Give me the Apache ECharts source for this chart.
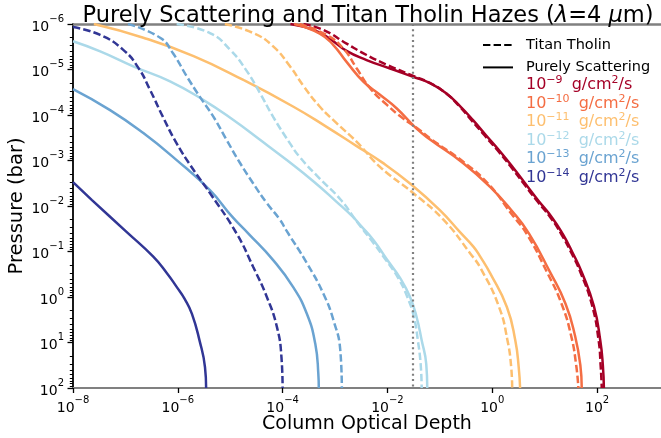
<!DOCTYPE html>
<html>
<head>
<meta charset="utf-8">
<script src="https://cdn.jsdelivr.net/npm/echarts@6/dist/echarts.min.js"></script>
<style>
  html, body { margin: 0; padding: 0; background: #ffffff; }
  #chart { width: 661px; height: 438px; }
</style>
</head>
<body>
<div id="chart"></div>
<script>
// Axis ranges and tick positions
const tauMin = 1e-8;
const tauMax = 1660;
const pressureTop = 1e-6;
const pressureBottom = 100;
const xTickValues = [1e-8, 1e-6, 1e-4, 1e-2, 1, 1e2];
const yTickValues = [1e-6, 1e-5, 1e-4, 1e-3, 1e-2, 1e-1, 1, 10, 100];
const yMinorTickValues = [];
for (let e = -6; e < 2; e++) {
  for (let m = 2; m <= 9; m++) yMinorTickValues.push(m * Math.pow(10, e));
}

// Reference optical depth (dotted vertical line)
const referenceDepth = [0.03];

// Haze production rates (exponent of g/cm^2/s) and their colours
const fluxExponents = [-9, -10, -11, -12, -13, -14];
const fluxColors = ['#a50026', '#f46d43', '#fdbf6f', '#abd9e9', '#6aa3d1', '#313695'];

// Column optical depth vs pressure (bar): [tau, P]
const scattering9 = [[1.41e-4,1e-6],[3.9e-4,1.35e-6],[7.9e-4,2.1e-6],[1.66e-3,3.9e-6],[4.0e-3,6.2e-6],[1.12e-2,9.5e-6],[3.1e-2,1.45e-5],[6.5e-2,2.0e-5],[0.135,3.4e-5],[0.25,6.6e-5],[0.43,1.3e-4],[0.76,2.79e-4],[1.35,5.96e-4],[2.39,1.34e-3],[4.23,3.18e-3],[7.48,7.5e-3],[13.8,1.78e-2],[22.4,4.23e-2],[33.4,0.101],[52,0.30],[87,1.58],[115,8.9],[129,31.6],[135,100]];
const tholin9 = [[2.5e-4,1e-6],[6.0e-4,1.35e-6],[1.66e-3,2.7e-6],[4.0e-3,4.8e-6],[9.8e-3,7.9e-6],[2.8e-2,1.32e-5],[6.0e-2,1.9e-5],[0.126,3.2e-5],[0.235,6.4e-5],[0.40,1.3e-4],[0.71,2.79e-4],[1.26,5.96e-4],[2.23,1.34e-3],[3.95,3.18e-3],[7.0,7.5e-3],[12.9,1.78e-2],[21,4.23e-2],[31.5,0.101],[49,0.30],[81,1.58],[107,8.9],[117,31.6],[123,100]];

const scattering10 = [[1.66e-4,1e-6],[5.1e-4,1.62e-6],[9.3e-4,2.9e-6],[1.66e-3,6.8e-6],[3.5e-3,1.86e-5],[7.2e-3,3.6e-5],[1.51e-2,7.2e-5],[3.6e-2,2.0e-4],[6.6e-2,3.5e-4],[0.28,1.15e-3],[0.91,3.8e-3],[2.3,1.23e-2],[5.0,4.0e-2],[12.6,0.28],[25,1.41],[38,7.1],[48,31.6],[51,100]];
const tholin10 = [[2.1e-4,1e-6],[6.9e-4,1.74e-6],[1.45e-3,3.5e-6],[2.6e-3,9.5e-6],[4.7e-3,2.6e-5],[9.8e-3,6.0e-5],[2.0e-2,1.2e-4],[3.6e-2,1.9e-4],[6.6e-2,3.3e-4],[0.28,1.07e-3],[0.87,3.4e-3],[2.24,1.41e-2],[4.6,4.2e-2],[11,0.28],[21,1.41],[32,7.1],[40,31.6],[44,100]];

const scattering11 = [[2.5e-8,1e-6],[2.2e-7,2.0e-6],[2.0e-6,5.1e-6],[1.78e-5,1.7e-5],[1.58e-4,6.5e-5],[6.9e-4,1.82e-4],[2.5e-3,4.7e-4],[7.9e-3,1.1e-3],[2.7e-2,3.2e-3],[0.10,1.23e-2],[0.245,3.8e-2],[0.44,7.9e-2],[0.59,0.13],[0.91,0.30],[1.9,1.66],[2.75,8.9],[3.2,35],[3.4,100]];
const tholin11 = [[7.9e-6,1e-6],[2.75e-5,1.58e-6],[6.6e-5,3.1e-6],[1.38e-4,8.5e-6],[2.5e-4,2.3e-5],[5.1e-4,6.5e-5],[1.07e-3,1.51e-4],[2.6e-3,3.9e-4],[7.2e-3,1.38e-3],[3.1e-2,5.2e-3],[0.117,2.0e-2],[0.38,0.11],[0.62,0.25],[1.35,1.66],[1.95,8.9],[2.3,35],[2.4,100]];

const scattering12 = [[1e-8,2.4e-6],[3.3e-8,4.0e-6],[1.41e-7,8.5e-6],[7.1e-7,1.82e-5],[3.1e-6,4.7e-5],[1.15e-5,1.29e-4],[3.7e-5,3.5e-4],[1.2e-4,9.8e-4],[3.9e-4,2.9e-3],[1.07e-3,8.1e-3],[2.2e-3,1.74e-2],[3.0e-3,2.6e-2],[5.4e-3,5.6e-2],[9.8e-3,0.15],[1.74e-2,0.38],[2.7e-2,1.0],[3.6e-2,2.75],[4.5e-2,8.9],[5.5e-2,29.5],[5.75e-2,100]];
const tholin12 = [[9.5e-7,1e-6],[4.1e-6,1.58e-6],[1.0e-5,3.7e-6],[2.0e-5,1.02e-5],[3.7e-5,3.3e-5],[6.6e-5,1.1e-4],[1.38e-4,4.2e-4],[2.1e-4,8.3e-4],[5.1e-4,2.5e-3],[1.26e-3,7.1e-3],[2.6e-3,2.2e-2],[4.9e-3,5.6e-2],[9.2e-3,0.15],[1.6e-2,0.38],[2.4e-2,1.0],[3.2e-2,2.75],[3.8e-2,8.9],[4.3e-2,29.5],[4.5e-2,100]];

const scattering13 = [[1e-8,2.7e-5],[5.1e-8,7.8e-5],[2.2e-7,2.5e-4],[9.5e-7,9.8e-4],[4.1e-6,4.5e-3],[1.1e-5,1.74e-2],[2.2e-5,4.0e-2],[6.6e-5,0.155],[1.58e-4,0.60],[2.9e-4,2.34],[4.2e-4,10.7],[4.8e-4,49],[4.9e-4,100]];
const tholin13 = [[1.12e-7,1e-6],[4.6e-7,2.0e-6],[8.1e-7,4.4e-6],[1.48e-6,1.41e-5],[2.6e-6,3.9e-5],[4.8e-6,1.1e-4],[8.5e-6,3.5e-4],[1.55e-5,1.15e-3],[2.75e-5,3.2e-3],[5.0e-5,8.7e-3],[8.9e-5,2.0e-2],[1.17e-4,3.4e-2],[2.9e-4,0.18],[6.0e-4,0.85],[9.3e-4,3.2],[1.26e-3,14.8],[1.35e-3,100]];

const scattering14 = [[1e-8,3.0e-3],[2.3e-8,7.4e-3],[1.05e-7,3.7e-2],[3.4e-7,0.13],[6.2e-7,0.30],[9.5e-7,0.60],[1.35e-6,1.1],[1.86e-6,2.34],[2.6e-6,9.1],[3.3e-6,34.7],[3.47e-6,100]];
const tholin14 = [[1e-8,1.17e-6],[3.3e-8,1.74e-6],[9.1e-8,3.7e-6],[1.78e-7,9.3e-6],[2.95e-7,2.8e-5],[5.2e-7,1.1e-4],[9.5e-7,4.2e-4],[2.0e-6,1.62e-3],[4.1e-6,5.2e-3],[1.32e-5,4.0e-2],[2.75e-5,0.22],[5.0e-5,1.0],[7.8e-5,4.6],[9.5e-5,21],[1.0e-4,100]];

const scatteringCurves = [scattering9, scattering10, scattering11, scattering12, scattering13, scattering14];
const tholinCurves = [tholin9, tholin10, tholin11, tholin12, tholin13, tholin14];

const FONT = 'DejaVu Sans';
const LINE_WIDTH = 2.5;
const DASH = [7.4, 3.2];
const SMOOTH = 0.5;

function minusSign(n) {
  return String(n).replace('-', '\u2212');
}
function powerLabel(v) {
  const e = Math.round(Math.log10(v));
  return '{b|10}{s|' + minusSign(e) + '}';
}
function fluxName(e) {
  return 'flux' + e;
}

const tickRich = {
  b: { fontFamily: FONT, fontSize: 14, lineHeight: 20, verticalAlign: 'bottom', color: '#000' },
  s: { fontFamily: FONT, fontSize: 10, lineHeight: 14, verticalAlign: 'top', color: '#000' }
};

const series = [
  { name: 'Titan Tholin', type: 'line', data: [], symbol: 'none', showSymbol: false,
    lineStyle: { color: '#000', width: LINE_WIDTH, type: DASH }, itemStyle: { color: '#000' } },
  { name: 'Purely Scattering', type: 'line', data: [], symbol: 'none', showSymbol: false,
    lineStyle: { color: '#000', width: LINE_WIDTH, type: 'solid' }, itemStyle: { color: '#000' } }
];

fluxExponents.forEach((e, i) => {
  const color = fluxColors[i];
  const solid = {
    name: fluxName(e), type: 'line', data: scatteringCurves[i],
    symbol: 'none', smooth: SMOOTH, clip: true,
    lineStyle: { color: color, width: LINE_WIDTH, type: 'solid' },
    itemStyle: { color: color }, z: 3
  };
  if (i === 0) {
    solid.markLine = {
      silent: true, symbol: ['none', 'none'], label: { show: false },
      lineStyle: { color: '#808080', width: 2.2, type: [2, 3.3] },
      data: referenceDepth.map(v => ({ xAxis: v }))
    };
  }
  series.push(solid);
  series.push({
    name: fluxName(e), type: 'line', data: tholinCurves[i],
    symbol: 'none', smooth: SMOOTH, clip: true,
    lineStyle: { color: color, width: LINE_WIDTH, type: DASH },
    itemStyle: { color: color }, z: 3
  });
});

const option = {
  animation: false,
  backgroundColor: '#ffffff',
  title: {
    text: '{n|Purely Scattering and Titan Tholin Hazes (}{i|\u03bb}{n|=4 }{i|\u03bc}{n|m)}',
    left: 363, top: 0, textAlign: 'center',
    textStyle: {
      fontWeight: 'normal',
      rich: {
        n: { fontFamily: FONT, fontSize: 22.5, fontWeight: 'normal', color: '#000' },
        i: { fontFamily: FONT, fontSize: 22.5, fontWeight: 'normal', fontStyle: 'italic', color: '#000' }
      }
    }
  },
  grid: { left: 73, right: 0, top: 24, bottom: 50, containLabel: false, outerBoundsMode: 'none' },
  legend: [
    {
      data: ['Titan Tholin', 'Purely Scattering'],
      orient: 'vertical', left: 477, top: 32,
      itemWidth: 30, itemHeight: 14, itemGap: 6.4,
      selectedMode: false,
      itemStyle: { opacity: 0 },
      textStyle: { fontFamily: FONT, fontSize: 14.5, color: '#000', lineHeight: 16, padding: [0, 0, 0, 8] }
    },
    {
      data: fluxExponents.map((e, i) => ({ name: fluxName(e), icon: 'none', textStyle: { color: fluxColors[i] } })),
      orient: 'vertical', left: 516, top: 70,
      itemWidth: 0, itemHeight: 10, itemGap: 0.5,
      selectedMode: false,
      formatter: function (name) {
        const e = name.replace('flux', '');
        return '{b|10}{s|' + minusSign(e) + '}{g| g/cm}{s|2}{b|/s}';
      },
      textStyle: {
        fontFamily: FONT, fontSize: 16,
        rich: {
          b: { fontFamily: FONT, fontSize: 16, lineHeight: 18, verticalAlign: 'bottom' },
          g: { fontFamily: FONT, fontSize: 16, lineHeight: 18, verticalAlign: 'bottom', padding: [0, 0, 0, 4] },
          s: { fontFamily: FONT, fontSize: 11, lineHeight: 13, verticalAlign: 'top' }
        }
      }
    }
  ],
  xAxis: [
    {
      type: 'log', min: tauMin, max: tauMax, position: 'bottom',
      name: 'Column Optical Depth', nameLocation: 'middle', nameGap: 27, nameMoveOverlap: false,
      nameTextStyle: { fontFamily: FONT, fontSize: 19, color: '#000' },
      axisLine: { show: true, lineStyle: { color: '#808080', width: 2 } },
      axisTick: { show: true, length: 5, lineStyle: { color: '#000', width: 1.3 }, customValues: xTickValues },
      axisLabel: { margin: 7, formatter: powerLabel, rich: tickRich, customValues: xTickValues },
      splitLine: { show: false }, minorTick: { show: false }
    },
    {
      type: 'log', min: tauMin, max: tauMax, position: 'top',
      axisLine: { show: true, lineStyle: { color: '#808080', width: 2.5 } },
      axisTick: { show: false }, axisLabel: { show: false }, splitLine: { show: false }
    }
  ],
  yAxis: [
    {
      type: 'log', min: pressureTop, max: pressureBottom, inverse: true,
      name: 'Pressure (bar)', nameLocation: 'middle', nameGap: 46, nameMoveOverlap: false,
      nameTextStyle: { fontFamily: FONT, fontSize: 19.5, color: '#000' },
      axisLine: { show: true, lineStyle: { color: '#000', width: 1.8 } },
      axisTick: { show: true, length: 5.5, lineStyle: { color: '#000', width: 1.3 }, customValues: yTickValues },
      axisLabel: { margin: 9, formatter: powerLabel, rich: tickRich, customValues: yTickValues },
      splitLine: { show: false }
    },
    {
      type: 'log', min: pressureTop, max: pressureBottom, inverse: true, position: 'left',
      axisLine: { show: false },
      axisTick: { show: true, length: 3.2, lineStyle: { color: '#000', width: 1 }, customValues: yMinorTickValues },
      axisLabel: { show: false }, splitLine: { show: false }
    }
  ],
  series: series
};

const chart = echarts.init(document.getElementById('chart'));
chart.setOption(option);
</script>
</body>
</html>
